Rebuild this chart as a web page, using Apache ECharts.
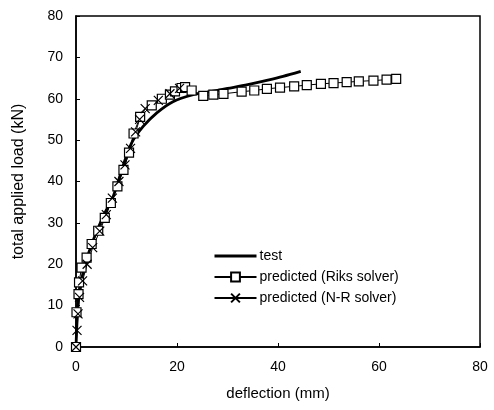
<!DOCTYPE html>
<html><head><meta charset="utf-8">
<script src="https://cdn.jsdelivr.net/npm/echarts@6/dist/echarts.min.js"></script>
<style>html,body{margin:0;padding:0;background:#fff}#c{width:494px;height:410px}</style>
</head><body><div id="c"></div>
<script>
const xTicks = [0, 20, 40, 60, 80];
const yTicks = [0, 10, 20, 30, 40, 50, 60, 70, 80];
const testX = [0, 0.5, 1.4, 3.1, 5.4, 7.4, 9.3, 11, 13.3, 16, 19.2, 23.2, 26, 30, 34, 38, 41, 44.5];
const testY = [0, 11.6, 18, 24.8, 31.6, 36.5, 43.7, 49.3, 53.3, 56.6, 59.3, 61.0, 61.6, 62.5, 63.4, 64.5, 65.4, 66.6];
const riksX = [0, 0.1, 0.5, 0.6, 1.1, 2.1, 3.1, 4.4, 5.7, 6.9, 8.2, 9.4, 10.5, 11.4, 12.7, 15, 17, 18.6, 19.6, 20.9, 21.6, 22.9,
  25.2, 27.2, 29.2, 32.8, 35.3, 37.8, 40.4, 43.2, 45.7, 48.5, 51, 53.6, 56, 58.9, 61.5, 63.4];
const riksY = [0, 8.4, 12.8, 15.6, 19.2, 21.6, 24.9, 28.1, 31.2, 34.8, 38.8, 42.8, 47.0, 51.6, 55.6, 58.4, 60.0, 61.0, 61.8, 62.6, 62.8, 62.0,
  60.7, 61.0, 61.2, 61.7, 62.0, 62.4, 62.7, 63.0, 63.3, 63.6, 63.8, 64.0, 64.2, 64.4, 64.6, 64.8];
const nrX = [0, 0.2, 0.4, 0.7, 1.3, 2.2, 3.3, 4.7, 6, 7.2, 8.5, 9.7, 10.8, 11.8, 12.6, 13.7, 16.3, 18.6, 20.5];
const nrY = [0, 4, 8, 12, 16, 20, 24, 28, 32, 36, 40, 44, 48, 52, 55, 57.6, 59.6, 61.2, 62.5];
const names = ['test', 'predicted (Riks solver)', 'predicted (N-R solver)'];

const zip = (a, b) => a.map((v, i) => [v, b[i]]);
const font = 'Liberation Sans, Arial, sans-serif';
const chart = echarts.init(document.getElementById('c'), null, {renderer: 'canvas'});
chart.setOption({
  animation: false,
  backgroundColor: '#fff',
  grid: {left: 76, right: 14, top: 16, bottom: 63, show: true, borderColor: '#000', borderWidth: 1.5,
         containLabel: false, outerBoundsMode: 'none'},
  legend: {
    orient: 'vertical', left: 208, top: 244, itemWidth: 42, itemHeight: 11, itemGap: 7,
    textStyle: {fontFamily: font, fontSize: 14, color: '#000', padding: [0, 0, 0, -2]},
    data: [{name: names[0], itemStyle: {opacity: 0}, lineStyle: {width: 3}}, names[1], names[2]]
  },
  xAxis: {
    type: 'value', min: 0, max: 80, interval: 20,
    name: 'deflection (mm)', nameLocation: 'middle', nameGap: 39,
    nameTextStyle: {fontFamily: font, fontSize: 15, color: '#000'},
    axisLine: {lineStyle: {color: '#000', width: 1.5}},
    axisTick: {inside: true, length: 4, lineStyle: {color: '#000'}},
    axisLabel: {fontFamily: font, fontSize: 14, color: '#000', margin: 13},
    splitLine: {show: false}
  },
  yAxis: {
    type: 'value', min: 0, max: 80, interval: 10,
    name: 'total applied load (kN)', nameLocation: 'middle', nameGap: 49,
    nameTextStyle: {fontFamily: font, fontSize: 16, color: '#000'},
    axisLine: {lineStyle: {color: '#000', width: 1.5}},
    axisTick: {inside: true, length: 4, lineStyle: {color: '#000'}},
    axisLabel: {fontFamily: font, fontSize: 14, color: '#000', margin: 13},
    splitLine: {show: false}
  },
  series: [
    {name: names[0], type: 'line', data: zip(testX, testY), smooth: 0.3, showSymbol: false, symbol: 'none',
     lineStyle: {color: '#000', width: 2.8}, itemStyle: {color: '#000'}, z: 3},
    {name: names[1], type: 'line', data: zip(riksX, riksY), symbol: 'rect', symbolSize: 9,
     lineStyle: {color: '#000', width: 1}, itemStyle: {color: '#fff', borderColor: '#000', borderWidth: 1.2}, z: 4},
    {name: names[2], type: 'line', data: zip(nrX, nrY), symbol: 'path://M0,0L10,10M10,0L0,10', symbolSize: 9,
     lineStyle: {color: '#000', width: 1}, itemStyle: {color: 'none', borderColor: '#000', borderWidth: 1.2}, z: 4}
  ]
});
</script></body></html>
